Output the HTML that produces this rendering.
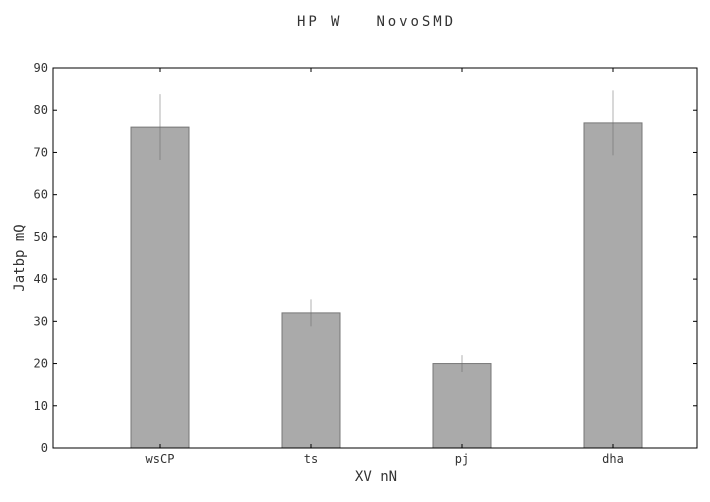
<!DOCTYPE html>
<html><head><meta charset="utf-8"><style>
body{margin:0;background:#fff;}
svg text{font-family:"DejaVu Sans Mono","Liberation Mono",monospace;fill:#333;}
</style></head><body>
<svg id="chart" width="710" height="497" xmlns="http://www.w3.org/2000/svg">
<rect width="710" height="497" fill="#fff"/>
<text x="297" y="26" font-size="14" textLength="156" lengthAdjust="spacing" xml:space="preserve">HP W   NovoSMD</text>
<text x="376" y="481" text-anchor="middle" font-size="14">XV nN</text>
<text transform="translate(24,258) rotate(-90)" text-anchor="middle" font-size="14">Jatbp mQ</text>
<g id="marks"></g>
<g id="axes"></g>
</svg>
<script>
const categories=["wsCP","ts","pj","dha"];
const values=[76,32,20,77];
const errors=[7.8,3.2,2,7.7];
const yTicks=[0,10,20,30,40,50,60,70,80,90];
const L=53,R=697,T=68,B=448;
const ymax=90;
function y(v){return B-(v/ymax)*(B-T);}
function x(i){return L+107+i*151;}
const ns="http://www.w3.org/2000/svg";
const marks=document.getElementById('marks'),axes=document.getElementById('axes');
function mk(tag,attrs,parent){const e=document.createElementNS(ns,tag);for(const k in attrs)e.setAttribute(k,attrs[k]);parent.appendChild(e);return e;}
categories.forEach((c,i)=>{
  const cx=x(i),w=58;
  const r=mk('rect',{x:cx-w/2,y:y(values[i]),width:w,height:B-y(values[i]),fill:'#aaaaaa',stroke:'#777','stroke-width':1},marks);
  
  
  const e=mk('line',{x1:cx,x2:cx,y1:y(values[i]+errors[i]),y2:y(values[i]-errors[i]),stroke:'#666','stroke-width':1,opacity:0.5},marks);
  
  
  mk('line',{x1:cx,x2:cx,y1:B,y2:B-4,stroke:'#000'},axes);
  mk('line',{x1:cx,x2:cx,y1:T,y2:T+4,stroke:'#000'},axes);
  const t=mk('text',{x:cx,y:B+15,'text-anchor':'middle','font-size':12},axes);
  t.textContent=c;
  
  
});
yTicks.forEach(v=>{
  mk('line',{x1:L,x2:L+4,y1:y(v),y2:y(v),stroke:'#000'},axes);
  mk('line',{x1:R,x2:R-4,y1:y(v),y2:y(v),stroke:'#000'},axes);
  const t=mk('text',{x:L-5,y:y(v)+4,'text-anchor':'end','font-size':12},axes);
  t.textContent=v;
  
  
});
const f=mk('rect',{x:L,y:T,width:R-L,height:B-T,fill:'none',stroke:'#000','stroke-width':1},axes);


</script>
</body></html>
